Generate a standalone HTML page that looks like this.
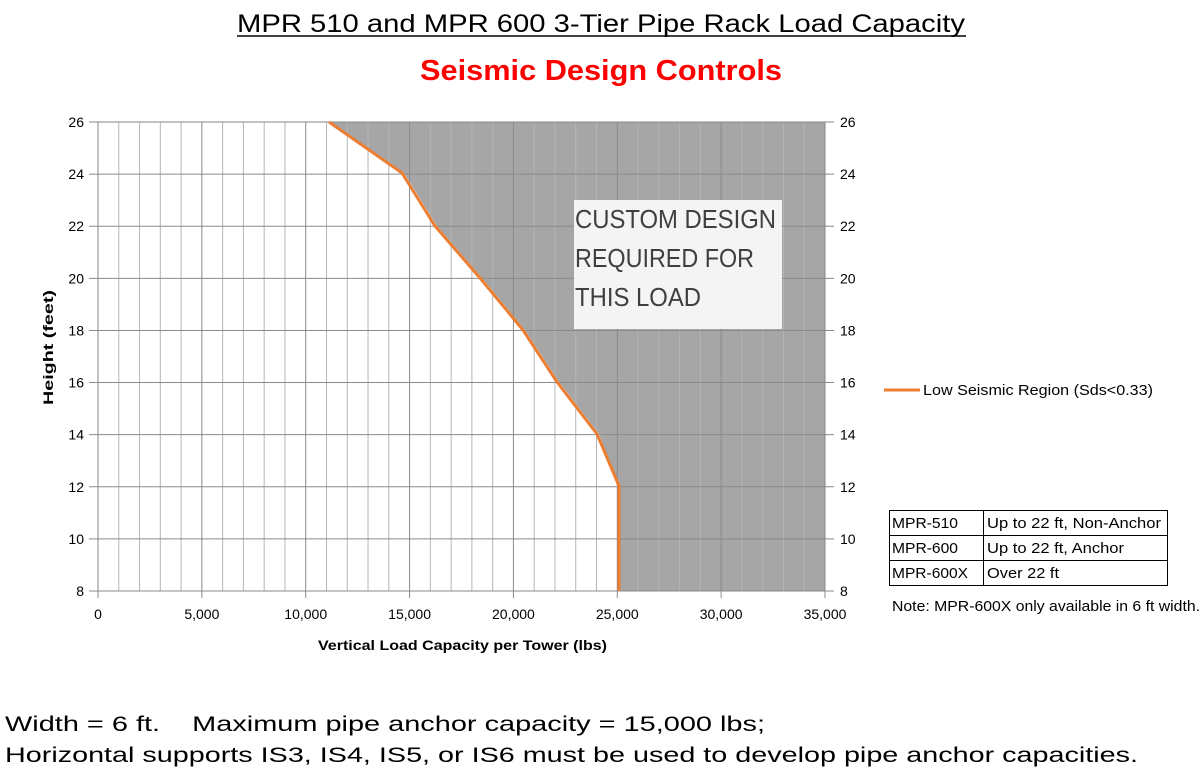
<!DOCTYPE html>
<html><head><meta charset="utf-8"><style>
body{margin:0;background:#fff;width:1202px;height:777px;overflow:hidden}
svg{display:block;font-family:"Liberation Sans",sans-serif}
</style></head><body>
<svg width="1202" height="777" viewBox="0 0 1202 777">
<text x="601" y="32" text-anchor="middle" font-size="25" fill="#000" textLength="728" lengthAdjust="spacingAndGlyphs">MPR 510 and MPR 600  3-Tier Pipe Rack Load Capacity</text>
<line x1="237" y1="36" x2="966" y2="36" stroke="#000" stroke-width="1.5"/>
<text x="601" y="80" text-anchor="middle" font-size="29" font-weight="bold" fill="#ff0000" textLength="362" lengthAdjust="spacingAndGlyphs">Seismic Design Controls</text>
<polygon points="331,122 825,122 825,591 619,591 619,486 599,434 559,382 525,330 482,278 437,226 404,173" fill="#a6a6a6"/>
<g id="grid"></g>
<rect x="574" y="200" width="208" height="129" fill="#fff" fill-opacity="0.88"/>
<g font-size="26" fill="#3f3f3f">
<text x="575" y="228" textLength="201" lengthAdjust="spacingAndGlyphs">CUSTOM DESIGN</text>
<text x="575" y="267" textLength="179" lengthAdjust="spacingAndGlyphs">REQUIRED FOR</text>
<text x="575" y="306" textLength="126" lengthAdjust="spacingAndGlyphs">THIS LOAD</text>
</g>
<polyline points="329,122 402,173 435,226 480,278 523,330 557,382 597,434 619,486 619,591" fill="none" stroke="#ed7d31" stroke-width="3" stroke-linejoin="round"/>
<g font-size="14" fill="#000" id="lbl"></g>
<text x="318" y="650" font-size="14" font-weight="bold" textLength="289" lengthAdjust="spacingAndGlyphs">Vertical Load Capacity per Tower (lbs)</text>
<text transform="translate(53,405) rotate(-90)" font-size="14" font-weight="bold" textLength="115" lengthAdjust="spacingAndGlyphs">Height (feet)</text>
<line x1="884" y1="390" x2="920" y2="390" stroke="#ed7d31" stroke-width="3"/>
<text x="923" y="395" font-size="15" textLength="230" lengthAdjust="spacingAndGlyphs">Low Seismic Region (Sds&lt;0.33)</text>
<g font-size="14" stroke="#000" fill="none">
<rect x="889.5" y="510.5" width="278" height="75"/>
<line x1="983.5" y1="510" x2="983.5" y2="586"/>
<line x1="889" y1="535.5" x2="1168" y2="535.5"/>
<line x1="889" y1="560.5" x2="1168" y2="560.5"/>
</g>
<g font-size="15" fill="#000">
<text x="892" y="528" textLength="66" lengthAdjust="spacingAndGlyphs">MPR-510</text><text x="987" y="528" textLength="174" lengthAdjust="spacingAndGlyphs">Up to 22 ft, Non-Anchor</text>
<text x="892" y="553" textLength="66" lengthAdjust="spacingAndGlyphs">MPR-600</text><text x="987" y="553" textLength="137" lengthAdjust="spacingAndGlyphs">Up to 22 ft, Anchor</text>
<text x="892" y="578" textLength="76" lengthAdjust="spacingAndGlyphs">MPR-600X</text><text x="987" y="578" textLength="72" lengthAdjust="spacingAndGlyphs">Over 22 ft</text>
<text x="892" y="611" textLength="308" lengthAdjust="spacingAndGlyphs">Note: MPR-600X only available in 6 ft width.</text>
</g>
<text x="5" y="731" font-size="21" fill="#000" textLength="760" lengthAdjust="spacingAndGlyphs" xml:space="preserve">Width = 6 ft.    Maximum pipe anchor capacity = 15,000 lbs;</text>
<text x="5" y="762" font-size="21" fill="#000" textLength="1133" lengthAdjust="spacingAndGlyphs">Horizontal supports IS3, IS4, IS5, or IS6 must be used to develop pipe anchor capacities.</text>
</svg>
<script>
var ns="http://www.w3.org/2000/svg",g=document.getElementById("grid"),l=document.getElementById("lbl");
function el(p,t,a){var e=document.createElementNS(ns,t);for(var k in a)e.setAttribute(k,a[k]);p.appendChild(e);return e;}
for(var i=0;i<=35;i++){var x=98+i*727/35;el(g,"line",{x1:x,y1:122,x2:x,y2:591,stroke:i%5==0?"#8a8a8a":"#b5b5b5","stroke-width":1});}
for(var k=0;k<=9;k++){var y=122+k*469/9;el(g,"line",{x1:89,y1:y,x2:834,y2:y,stroke:"#8a8a8a","stroke-width":1});
var v=26-2*k;var t=el(l,"text",{x:84,y:y+5,"text-anchor":"end"});t.textContent=v;
t=el(l,"text",{x:840,y:y+5});t.textContent=v;}
var labs=["0","5,000","10,000","15,000","20,000","25,000","30,000","35,000"];
for(var i=0;i<8;i++){var x=98+i*727/7;el(g,"line",{x1:x,y1:591,x2:x,y2:598,stroke:"#8a8a8a"});var t=el(l,"text",{x:x,y:619,"text-anchor":"middle"});t.textContent=labs[i];}
</script>
</body></html>
